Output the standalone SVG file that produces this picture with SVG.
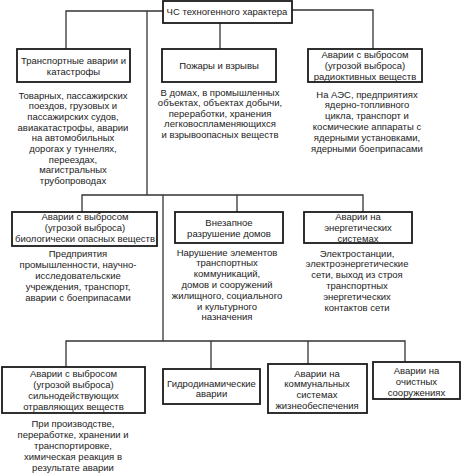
<svg xmlns="http://www.w3.org/2000/svg" width="461" height="473" viewBox="0 0 461 473">
<style>
.box{fill:#fff;stroke:#1a1a1a;stroke-width:1.8}
.con{fill:none;stroke:#333;stroke-width:1.3}
text{font-family:"Liberation Sans",Arial,sans-serif;font-size:9.5px;fill:#222;text-anchor:middle}
</style>
<rect width="461" height="473" fill="#fff"/>
<g id="connectors">
<path class="con" d="M163,11 H66 V49"/>
<path class="con" d="M292,10 H373 V49"/>
<path class="con" d="M220,23 V49"/>
<path class="con" d="M147,11 V195"/>
<path class="con" d="M82,212 V195 H363 V212"/>
<path class="con" d="M237,195 V212"/>
<path class="con" d="M163,195 V341"/>
<path class="con" d="M66,367 V341 H405 V362"/>
<path class="con" d="M211,341 V369"/>
<path class="con" d="M308,341 V364"/>
</g>
<g id="root">
<rect class="box" x="163" y="1" width="129" height="22"/>
<text x="227" y="14.5">ЧС техногенного характера</text>
</g>
<g id="transport">
<rect class="box" x="17" y="49" width="113" height="33"/>
<text x="73.5" y="63.5">Транспортные аварии и</text>
<text x="73.5" y="74.5">катастрофы</text>
<text x="73" y="98.5">Товарных, пассажирских</text>
<text x="73" y="109.2">поездов, грузовых и</text>
<text x="73" y="119.9">пассажирских судов,</text>
<text x="73" y="130.6">авиакатастрофы, аварии</text>
<text x="73" y="141.3">на автомобильных</text>
<text x="73" y="152">дорогах у туннелях,</text>
<text x="73" y="162.7">переездах,</text>
<text x="73" y="173.4">магистральных</text>
<text x="73" y="184.1">трубопроводах</text>
</g>
<g id="fires">
<rect class="box" x="162" y="49" width="114" height="33"/>
<text x="219" y="68.5">Пожары и взрывы</text>
<text x="220" y="95.5">В домах, в промышленных</text>
<text x="220" y="106">объектах, объектах добычи,</text>
<text x="220" y="116.5">переработки, хранения</text>
<text x="220" y="127">легковоспламеняющихся</text>
<text x="220" y="137.5">и взрывоопасных веществ</text>
</g>
<g id="radio">
<rect class="box" x="308" y="49" width="114" height="33"/>
<text x="365" y="57.5">Аварии с выбросом</text>
<text x="365" y="68.5">(угрозой выброса)</text>
<text x="365" y="79.5">радиоктивных веществ</text>
<text x="367" y="97.5">На АЭС, предприятиях</text>
<text x="367" y="108.3">ядерно-топливного</text>
<text x="367" y="119.1">цикла, транспорт и</text>
<text x="367" y="129.9">космические аппараты с</text>
<text x="367" y="140.7">ядерными установками,</text>
<text x="367" y="151.5">ядерными боеприпасами</text>
</g>
<g id="bio">
<rect class="box" x="12" y="212" width="145" height="34"/>
<text x="85" y="219.5">Аварии с выбросом</text>
<text x="85" y="230.5">(угрозой выброса)</text>
<text x="85" y="241.5">биологически опасных веществ</text>
<text x="78" y="256.5">Предприятия</text>
<text x="78" y="267.5">промышленности, научно-</text>
<text x="78" y="278.5">исследовательские</text>
<text x="78" y="289.5">учреждения, транспорт,</text>
<text x="78" y="300.5">аварии с боеприпасами</text>
</g>
<g id="collapse">
<rect class="box" x="175" y="212" width="108" height="31"/>
<text x="229" y="225.5">Внезапное</text>
<text x="229" y="236.5">разрушение домов</text>
<text x="227" y="255.5">Нарушение элементов</text>
<text x="227" y="266.3">транспортных</text>
<text x="227" y="277.1">коммуникаций,</text>
<text x="227" y="287.9">домов и сооружений</text>
<text x="227" y="298.7">жилищного, социального</text>
<text x="227" y="309.5">и культурного</text>
<text x="227" y="320.3">назначения</text>
</g>
<g id="energy">
<rect class="box" x="304" y="212" width="108" height="31"/>
<text x="358" y="219.5">Аварии на</text>
<text x="358" y="230.5">энергетических</text>
<text x="358" y="241.5">системах</text>
<text x="357" y="256.5">Электростанции,</text>
<text x="357" y="267.4">электроэнергетические</text>
<text x="357" y="278.3">сети, выход из строя</text>
<text x="357" y="289.2">транспортных</text>
<text x="357" y="300.1">энергетических</text>
<text x="357" y="311">контактов сети</text>
</g>
<g id="toxic">
<rect class="box" x="2" y="367" width="143" height="46"/>
<text x="73.5" y="376.5">Аварии с выбросом</text>
<text x="73.5" y="387.5">(угрозой выброса)</text>
<text x="73.5" y="398.5">сильнодействующих</text>
<text x="73.5" y="409.5">отравляющих веществ</text>
<text x="73" y="426.5">При производстве,</text>
<text x="73" y="437.5">переработке, хранении и</text>
<text x="73" y="448.5">транспортировке,</text>
<text x="73" y="459.5">химическая реакция в</text>
<text x="73" y="470.5">результате аварии</text>
</g>
<g id="hydro">
<rect class="box" x="163" y="369" width="97" height="35"/>
<text x="211.5" y="386.5">Гидродинамические</text>
<text x="211.5" y="397">аварии</text>
</g>
<g id="communal">
<rect class="box" x="268" y="364" width="99" height="49"/>
<text x="317" y="376.5">Аварии на</text>
<text x="317" y="387.2">коммунальных</text>
<text x="317" y="397.9">системах</text>
<text x="317" y="408.6">жизнеобеспечения</text>
</g>
<g id="treatment">
<rect class="box" x="373" y="362" width="87" height="37"/>
<text x="416.5" y="373.5">Аварии на</text>
<text x="416.5" y="384.5">очистных</text>
<text x="416.5" y="395.5">сооружениях</text>
</g>
</svg>
